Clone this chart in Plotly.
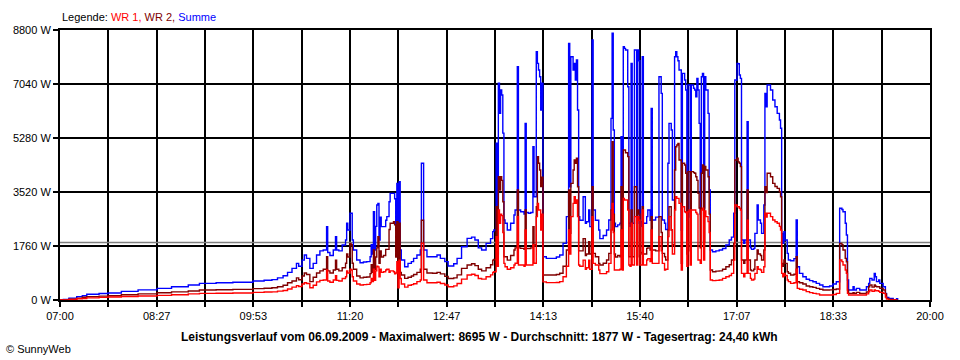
import plotly.graph_objects as go

# ---------------- data ----------------
TIMES = [
    "07:00", "07:03", "07:08", "07:15", "07:20", "07:24", "07:35", "07:43", "07:55", "08:10",
    "08:27", "08:40", "08:55", "09:05", "09:20", "09:35", "09:53", "10:03", "10:10", "10:15",
    "10:20",
    "10:24", "10:28", "10:32", "10:34", "10:37", "10:39", "10:41", "10:44", "10:47", "10:50",
    "10:53", "10:56", "10:59", "11:00", "11:02", "11:05", "11:07", "11:08", "11:10", "11:13",
    "11:16", "11:17", "11:18", "11:20", "11:21", "11:22", "11:23", "11:26", "11:29", "11:32",
    "11:35", "11:38", "11:39", "11:40", "11:41", "11:42", "11:43", "11:44", "11:45", "11:46",
    "11:47", "11:48", "11:50", "11:52", "11:53", "11:55", "11:56", "11:59", "12:00", "12:01",
    "12:02", "12:03", "12:04", "12:05", "12:06", "12:09", "12:12", "12:15", "12:17", "12:20",
    "12:23", "12:24", "12:26", "12:29", "12:34", "12:38", "12:41", "12:45", "12:48", "12:53",
    "12:56", "13:00", "13:05", "13:09", "13:12", "13:15", "13:18", "13:22", "13:26", "13:28",
    "13:29", "13:31", "13:32", "13:33", "13:34", "13:35", "13:36", "13:37", "13:38", "13:39",
    "13:41", "13:44", "13:47", "13:48", "13:50", "13:51", "13:53", "13:56", "13:57", "13:58",
    "14:00", "14:02", "14:04", "14:05", "14:07", "14:08", "14:09", "14:10", "14:11", "14:12",
    "14:13", "14:16", "14:21", "14:25", "14:28", "14:31", "14:34", "14:36", "14:37", "14:38",
    "14:40", "14:41", "14:42", "14:43", "14:44", "14:45", "14:46", "14:49", "14:51", "14:52",
    "14:54", "14:55", "14:57", "14:58", "15:00", "15:03", "15:04",
    "15:07", "15:10", "15:12", "15:14", "15:15", "15:16", "15:17", "15:18", "15:20", "15:22",
    "15:23", "15:24", "15:25", "15:26", "15:27", "15:29", "15:30", "15:31", "15:32", "15:33",
    "15:35", "15:37", "15:38", "15:39", "15:40", "15:41", "15:42", "15:43", "15:46", "15:47",
    "15:49", "15:50", "15:51", "15:54", "15:57", "15:59", "16:00", "16:02", "16:03", "16:05",
    "16:06", "16:08", "16:09", "16:11", "16:12", "16:13", "16:14", "16:15", "16:17", "16:18",
    "16:20", "16:21", "16:22", "16:23", "16:24", "16:25", "16:26", "16:28", "16:29", "16:30",
    "16:31", "16:32", "16:33", "16:34", "16:35", "16:36", "16:37", "16:38", "16:39", "16:41",
    "16:42", "16:43", "16:45", "16:48", "16:51", "16:54", "16:57", "17:00",
    "17:02", "17:04", "17:05", "17:07", "17:08", "17:09", "17:10", "17:11", "17:13", "17:14",
    "17:16", "17:17", "17:19", "17:20", "17:22", "17:23", "17:25", "17:26", "17:28", "17:29",
    "17:31", "17:32", "17:33", "17:34", "17:37", "17:39", "17:41", "17:43", "17:45", "17:46",
    "17:47", "17:48", "17:49", "17:50", "17:52", "17:53", "17:55", "17:58", "18:00", "18:01",
    "18:03", "18:06", "18:09", "18:12", "18:15", "18:18", "18:21", "18:24", "18:27", "18:30",
    "18:33", "18:36", "18:39", "18:41", "18:42", "18:44", "18:45", "18:46", "18:47", "18:51",
    "18:52", "18:54", "18:57", "19:03", "19:05", "19:06", "19:08", "19:10", "19:11", "19:12",
    "19:14", "19:15", "19:18", "19:20", "19:21", "19:23", "19:27", "19:30", "19:31",
]

SUMME = [
    0, 20, 60, 110, 140, 185, 210, 228, 280, 330,
    380, 430, 490, 543, 560, 580, 620, 645, 665, 720,
    790,
    900, 1030, 1195, 1100, 1300, 1466, 1358, 1032, 1195, 1466,
    1600, 1630, 2390, 1550, 1450, 1630, 2064, 1630, 1600, 1792,
    1955, 2500, 2281, 2825, 2825, 1955, 1630, 1304, 1216, 1240,
    1250, 1412, 1800, 1500, 2878, 1630, 2400, 3096, 3150, 1955,
    2700, 2390, 2390, 2600, 2716, 3200, 3476, 3476, 3300, 2281,
    3802, 1500, 3856, 1630, 1304, 1086, 1195, 1250, 1358, 1466,
    1630, 4455, 1630, 1412, 1412, 1466, 1358, 1250, 1108, 1180,
    1358, 1738, 2010, 2050, 1955, 1700, 1630, 1847, 2000, 2227,
    2281, 5107, 2600, 7062, 6084, 6844, 6681, 5440, 2607, 2500,
    2281, 2500, 2770, 2933, 7604, 2933, 2878, 2800, 5758, 2850,
    2825, 2850, 4997, 3367, 8093, 7713, 7496, 7278, 6192, 7062,
    1412, 1358, 1358, 1400, 1466, 1847, 2716, 8365, 3693, 7930,
    7496, 7713, 7170, 7822, 6192, 2716, 2600, 3367, 2500, 2550,
    2933, 2390, 8474, 2933, 2600, 2281, 2000,
    2100, 2281, 2607, 5921, 8692, 5540, 2500, 2390, 2450, 2500,
    5323, 2500, 8256, 8200, 8148, 6952, 2500, 2400, 7713, 2500,
    8148, 2500, 8148, 7800, 2400, 2550, 7930, 2500, 2716, 2933,
    2600, 6247, 2607, 2700, 7278, 6735, 2607, 2500, 2300, 4455,
    5758, 5540, 3259, 7930, 8093, 7930, 7800, 7496, 2281, 7387,
    7170, 6844, 2600, 7007, 7007, 2700, 7007, 6900, 6844, 6626,
    7224, 6844, 5758, 2800, 7278, 7387, 3000, 7278, 6844, 6084,
    3585, 1630, 1575, 1600, 1630, 1680, 1792, 1955,
    2050, 2825, 7170, 7713, 7700, 7333, 7224, 1955, 1850, 1955,
    5812, 1955, 1700, 1650, 1684, 2173, 3096, 2607, 2500, 2173,
    3096, 6735, 6300, 7007, 6844, 6518, 6300, 6084, 5866, 5596,
    2173, 1847, 2227, 1955, 1520, 1304, 1280, 1350, 2607, 1086,
    869, 760, 674, 630, 597, 543, 489, 434, 434, 456,
    521, 597, 2988, 2950, 2878, 2500, 2118, 652, 326, 434,
    326, 380, 326, 434, 543, 706, 652, 869, 760, 600,
    652, 543, 434, 217, 87, 54, 0, 40, 0,
]

WR2 = [
    0, 0, 30, 60, 90, 110, 125, 140, 170, 200,
    235, 265, 295, 326, 335, 345, 370, 385, 400, 430,
    480,
    560, 620, 720, 660, 780, 880, 830, 600, 740, 880,
    950, 1000, 1412, 950, 880, 980, 1300, 1000, 950, 1050,
    1200, 1500, 1400, 1847, 1800, 1200, 1000, 780, 720, 740,
    750, 860, 1150, 900, 1630, 1000, 1400, 1700, 2064, 1200,
    1600, 1400, 1450, 1650, 1650, 2300, 2500, 2553, 2450, 1400,
    2553, 1086, 2500, 900, 815, 706, 740, 780, 830, 900,
    1000, 2600, 1000, 880, 870, 900, 850, 770, 700, 720,
    820, 1030, 1141, 1180, 1120, 1000, 950, 1050, 1150, 1300,
    1325, 3041, 1500, 4019, 3585, 4019, 3900, 3200, 1412, 1412,
    1300, 1450, 1630, 1700, 3585, 1700, 1684, 1650, 2933, 1680,
    1680, 1700, 2390, 1800, 3041, 4672, 4455, 4237, 3700, 4000,
    815, 815, 815, 830, 870, 1100, 1630, 3585, 2173, 3802,
    4237, 4563, 4455, 4618, 3693, 1600, 1600, 2000, 1450, 1500,
    1900, 1500, 3693, 1520, 1412, 1195, 1141,
    1200, 1304, 1520, 2933, 5160, 2800, 1500, 1400, 1450, 1412,
    3693, 1412, 4889, 4889, 4800, 4672, 1412, 1412, 2933, 1412,
    3693, 1412, 2933, 2800, 1500, 1550, 3041, 1500, 1684, 1700,
    1630, 2716, 1630, 1600, 2716, 2200, 1520, 1412, 1304, 2281,
    3041, 2281, 1800, 4237, 4997, 5051, 5100, 4563, 1195, 4455,
    4400, 4129, 1500, 4183, 4183, 1600, 4183, 4150, 4129, 4019,
    3900, 3476, 3000, 1700, 4129, 4400, 1900, 4350, 4237, 4019,
    2800, 978, 923, 940, 950, 1000, 1086, 1150,
    1304, 1847, 4563, 4618, 4500, 4455, 4346, 1304, 1195, 1304,
    3585, 1304, 978, 950, 1000, 1304, 1630, 1500, 1450, 1304,
    1630, 3693, 3500, 4129, 4019, 3802, 3700, 3639, 3530, 3367,
    1195, 1100, 1304, 1195, 923, 870, 815, 840, 1412, 597,
    560, 521, 456, 430, 413, 380, 348, 326, 326, 330,
    340, 360, 1847, 1800, 1630, 1358, 1249, 326, 217, 240,
    217, 250, 217, 260, 434, 489, 420, 489, 450, 434,
    434, 380, 326, 200, 54, 20, 0, 0, 0,
]

WR1 = [
    0, 0, 20, 40, 50, 70, 85, 100, 115, 130,
    150, 170, 200, 217, 220, 230, 250, 260, 265, 290,
    310,
    360, 420, 470, 440, 520, 560, 540, 400, 480, 590,
    640, 650, 980, 620, 580, 650, 790, 640, 620, 700,
    760, 950, 880, 1000, 980, 760, 620, 520, 490, 500,
    510, 560, 700, 600, 1000, 640, 950, 1100, 1080, 760,
    1000, 900, 920, 980, 1000, 900, 950, 920, 850, 880,
    1250, 400, 1300, 700, 520, 420, 480, 500, 530, 600,
    650, 1850, 650, 560, 560, 580, 540, 490, 430, 460,
    540, 680, 815, 840, 800, 700, 680, 760, 820, 900,
    920, 2064, 1100, 2933, 2500, 2800, 2750, 2200, 1195, 1086,
    1000, 1050, 1141, 1200, 2716, 1141, 1141, 1100, 2281, 1141,
    1141, 1141, 1800, 1200, 2716, 3150, 2933, 2933, 2281, 2800,
    590, 565, 565, 570, 600, 760, 1100, 2281, 1500, 2716,
    3150, 3367, 3150, 3259, 2716, 1141, 1100, 1300, 1000, 1050,
    1300, 1000, 2716, 1195, 1141, 978, 860,
    860, 923, 1195, 2281, 3150, 2200, 978, 978, 978, 1000,
    2281, 978, 3313, 3259, 3259, 2933, 1141, 1100, 2500, 1141,
    2716, 1141, 2716, 2600, 1141, 1141, 2933, 1141, 1304, 1350,
    1250, 2281, 1195, 1195, 2064, 1600, 1195, 978, 1000, 2064,
    2716, 2281, 1500, 2933, 3367, 3313, 3313, 3150, 978, 3041,
    2878, 2850, 1100, 2878, 2933, 1141, 2933, 2933, 2933, 2850,
    2800, 1300, 1304, 1200, 2933, 2988, 1300, 2900, 2716, 2553,
    2200, 652, 630, 640, 650, 706, 760, 800,
    869, 1304, 3096, 3041, 3041, 2988, 2933, 869, 760, 869,
    2600, 869, 706, 652, 680, 869, 1086, 1000, 980, 900,
    1086, 2825, 2700, 2825, 2716, 2607, 2550, 2500, 2400, 2281,
    869, 760, 869, 800, 652, 600, 543, 560, 1000, 380,
    350, 326, 272, 240, 217, 200, 163, 163, 163, 163,
    180, 217, 1304, 1250, 1141, 978, 869, 217, 163, 163,
    163, 163, 163, 200, 272, 326, 280, 326, 300, 300,
    280, 250, 217, 100, 30, 0, 0, 0, 0,
]

AVERAGE_W = 1877
Y_TICKS = [0, 1760, 3520, 5280, 7040, 8800]
X_TICK_LABELS = ["07:00", "08:27", "09:53", "11:20", "12:47",
                 "14:13", "15:40", "17:07", "18:33", "20:00"]
LEGEND_TEXT = ("Legende: <span style='color:#ff0000'>WR 1, </span>"
               "<span style='color:#800000'>WR 2, </span>"
               "<span style='color:#0000ff'>Summe</span>")
TITLE = ("Leistungsverlauf vom 06.09.2009 - Maximalwert: 8695 W - "
         "Durchschnitt: 1877 W - Tagesertrag: 24,40 kWh")
COPYRIGHT = "© SunnyWeb"

assert len(TIMES) == len(SUMME) == len(WR1) == len(WR2), (
    len(TIMES), len(SUMME), len(WR1), len(WR2))

# ---------------- helpers ----------------
START_H = 7
SPAN_MIN = 13 * 60


def to_minutes(s):
    h, m = s.split(":")
    return (int(h) - START_H) * 60 + int(m)


x = [to_minutes(t) for t in TIMES]
n_grid = 18
tickvals = [i * SPAN_MIN / n_grid for i in range(n_grid + 1)]
ticktext = [X_TICK_LABELS[i // 2] if i % 2 == 0 else "" for i in range(n_grid + 1)]

FONT = "Liberation Sans, Arial, sans-serif"

fig = go.Figure()
fig.add_trace(go.Scatter(x=[0, SPAN_MIN], y=[AVERAGE_W, AVERAGE_W], mode="lines",
                         line=dict(color="#808080", width=1.5), hoverinfo="skip"))
fig.add_trace(go.Scatter(x=x, y=SUMME, mode="lines", name="Summe",
                         line=dict(color="#0000ff", width=1.4, shape="hv")))
fig.add_trace(go.Scatter(x=x, y=WR2, mode="lines", name="WR 2",
                         line=dict(color="#800000", width=1.4, shape="hv")))
fig.add_trace(go.Scatter(x=x, y=WR1, mode="lines", name="WR 1",
                         line=dict(color="#ff0000", width=1.4, shape="hv")))

axis_common = dict(showgrid=True, gridcolor="black", gridwidth=2,
                   showline=True, mirror=True, linecolor="black", linewidth=2,
                   ticks="outside", ticklen=5, tickcolor="black", tickwidth=2,
                   zeroline=False, tickfont=dict(family=FONT, size=11, color="black"))

fig.update_layout(
    width=960, height=360,
    margin=dict(l=60, r=30, t=30, b=60, pad=0),
    paper_bgcolor="white", plot_bgcolor="white",
    showlegend=False,
    font=dict(family=FONT, size=11, color="black"),
    xaxis=dict(range=[0, SPAN_MIN], tickmode="array", tickvals=tickvals,
               ticktext=ticktext, **axis_common),
    yaxis=dict(range=[0, Y_TICKS[-1]], tickmode="array", tickvals=Y_TICKS,
               ticktext=[f"{v} W" for v in Y_TICKS], **axis_common),
)

fig.add_annotation(text=LEGEND_TEXT, xref="paper", yref="paper",
                   x=0, y=(300 - 17) / 270, xanchor="left", yanchor="middle",
                   showarrow=False, font=dict(family=FONT, size=11, color="black"))
fig.add_annotation(text="<b>" + TITLE + "</b>", xref="paper", yref="paper",
                   x=(479.5 - 60) / 870, y=(300 - 337) / 270,
                   xanchor="center", yanchor="middle", showarrow=False,
                   font=dict(family=FONT, size=12, color="black"))
fig.add_annotation(text=COPYRIGHT, xref="paper", yref="paper",
                   x=(4 - 60) / 870, y=(300 - 349) / 270,
                   xanchor="left", yanchor="middle", showarrow=False,
                   font=dict(family=FONT, size=11, color="black"))

fig.write_html("out.html",
               config={"displayModeBar": False},
               post_script="document.body.style.margin='0';"
                           "document.body.style.padding='0';")
